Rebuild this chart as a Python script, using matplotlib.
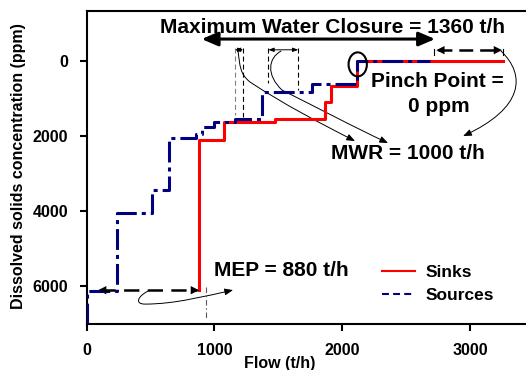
import matplotlib
matplotlib.use("Agg")
import matplotlib.pyplot as plt
from matplotlib.lines import Line2D
from matplotlib.patches import Ellipse, FancyArrowPatch
from matplotlib.path import Path

plt.rcParams['font.family'] = ['Liberation Sans', 'DejaVu Sans']
plt.rcParams['font.weight'] = 'bold'
plt.rcParams['lines.scale_dashes'] = False

# sink composite curve (corner points, flow t/h vs ppm)
sink_flow = [880, 880, 1078, 1078, 1474, 1474, 1866, 1866, 1912, 1912, 2113, 2113, 3256]
sink_conc = [6100, 2090, 2090, 1627, 1627, 1545, 1545, 1100, 1100, 675, 675, 0, 0]

# source composite curve
source_flow = [0, 0, 240, 240, 515, 515, 648, 648, 858, 858, 905, 905, 995,
               995, 1165, 1165, 1375, 1375, 1760, 1760, 2113, 2113, 2685]
source_conc = [7000, 6120, 6120, 4035, 4035, 3420, 3420, 2060, 2060, 1955, 1955, 1768, 1768,
               1627, 1627, 1548, 1548, 819, 819, 620, 620, 0, 0]

x_ticks = [0, 1000, 2000, 3000]
y_ticks = [0, 2000, 4000, 6000]

fig = plt.figure(figsize=(5.26, 3.70), dpi=100)
ax = fig.add_axes([0.1645, 0.1243, 0.8508, 0.846])

ax.plot(sink_flow, sink_conc, color='#ff0000', lw=2.2, zorder=3)
ax.plot(source_flow, source_conc, color='#000080', lw=2.2, dashes=(15, 3.6, 2.9, 3.6), zorder=4)

ax.set_xlim(0, 3500)
ax.set_ylim(7000, -1333)
ax.set_xticks(x_ticks)
ax.set_yticks(y_ticks)
ax.tick_params(direction='out', length=5, width=1.5, labelsize=11.5)
ax.tick_params(axis='x', pad=9)
ax.tick_params(axis='y', pad=8)
for s in ax.spines.values():
    s.set_linewidth(1.5)

ax.set_xlabel('Flow (t/h)', fontsize=11.5, fontweight='bold')
ax.set_ylabel('Dissolved solids concentration (ppm)', fontsize=11.5, fontweight='bold')
ax.xaxis.set_label_coords(0.432, -0.103)
ax.yaxis.set_label_coords(-0.135, 0.505)

# maximum water closure
ax.annotate('', xy=(2726, -586), xytext=(900, -586),
            arrowprops=dict(arrowstyle='<|-|>,head_length=0.7,head_width=0.3', lw=2.2,
                            color='black', shrinkA=0, shrinkB=0, mutation_scale=14))
ax.text(1924, -900, 'Maximum Water Closure = 1360 t/h', fontsize=15, ha='center', va='center')

# dashed gap boxes
thin = dict(lw=0.8, dashes=(3.6, 2.2))
ax.plot([1161, 1161], [-338, 1438], color='0.5', **thin)
ax.plot([1226, 1226], [-338, 1480], color='black', **thin)
ax.plot([1422, 1422], [-338, 594], color='black', **thin)
ax.plot([1656, 1656], [-338, 772], color='black', **thin)
for a, b in [(1161, 1226), (1422, 1656)]:
    ax.annotate('', xy=(b, -300), xytext=(a, -300),
                arrowprops=dict(arrowstyle='<|-|>,head_length=0.4,head_width=0.15', lw=0.7,
                                color='black', shrinkA=0, shrinkB=0, mutation_scale=8))

# pinch gap arrow
ax.plot([2745, 3235], [-290, -290], color='black', lw=1.8, dashes=(10, 5))
ax.plot([2720, 2720], [-320, -150], color='black', lw=0.8)
ax.plot([3258, 3258], [-320, -150], color='black', lw=0.8)
for tip, tail in [(2735, 2800), (3250, 3180)]:
    ax.annotate('', xy=(tip, -290), xytext=(tail, -290),
                arrowprops=dict(arrowstyle='-|>,head_length=0.6,head_width=0.3', lw=0,
                                color='black', shrinkA=0, shrinkB=0, mutation_scale=10))

# pinch point marker
ax.add_patch(Ellipse((2121, 88), 143, 639, fill=False, lw=1.5, color='black', zorder=5))
ax.text(2741, 533, 'Pinch Point =', fontsize=15, ha='center', va='center')
ax.text(2757, 1217, '0 ppm', fontsize=15, ha='center', va='center')
ax.text(2517, 2458, 'MWR = 1000 t/h', fontsize=15, ha='center', va='center')

# curved pointers to the MWR label
C = Path.CURVE4
curves = [
    [(1185, -266), (1200, 133), (1200, 346), (1279, 559), (1552, 1171), (1826, 1651), (2100, 2130)],
    [(1521, -266), (1420, -80), (1404, 373), (1529, 772), (1810, 1251), (2076, 1731), (2358, 2183)],
    [(3242, -266), (3437, 373), (3422, 1251), (2945, 1997)],
]
for pts in curves:
    codes = [Path.MOVETO] + [C] * (len(pts) - 1)
    ax.add_patch(FancyArrowPatch(path=Path(pts, codes),
                                 arrowstyle='-|>,head_length=0.5,head_width=0.2',
                                 mutation_scale=10, lw=0.7, color='black'))

# MEP
ax.plot([105, 865], [6100, 6100], color='black', lw=1.8, dashes=(11, 6), zorder=5)
for tip, tail in [(90, 160), (880, 810)]:
    ax.annotate('', xy=(tip, 6100), xytext=(tail, 6100),
                arrowprops=dict(arrowstyle='-|>,head_length=0.6,head_width=0.3', lw=0,
                                color='black', shrinkA=0, shrinkB=0, mutation_scale=10))
ax.plot([936, 936], [6010, 6850], color='0.35', lw=0.8, dashes=(4, 2, 1, 2))
mep_pts = [(481, 6124), (403, 6257), (372, 6470), (458, 6470), (692, 6470), (927, 6257), (1146, 6097)]
ax.add_patch(FancyArrowPatch(path=Path(mep_pts, [Path.MOVETO] + [C] * 6),
                             arrowstyle='-|>,head_length=0.5,head_width=0.2',
                             mutation_scale=10, lw=0.7, color='black'))
ax.text(1527, 5583, 'MEP = 880 t/h', fontsize=15, ha='center', va='center')

handles = [Line2D([], [], color='#ff0000', lw=1.5),
           Line2D([], [], color='#000080', lw=1.5, dashes=(5, 3))]
ax.legend(handles, ['Sinks', 'Sources'], loc='upper left', bbox_to_anchor=(0.66, 0.19),
          frameon=False, borderaxespad=0, borderpad=0, handlelength=1.9,
          handletextpad=0.6, labelspacing=0.45, prop=dict(size=12.5, weight='bold'))

fig.savefig('out.png', dpi=100)
